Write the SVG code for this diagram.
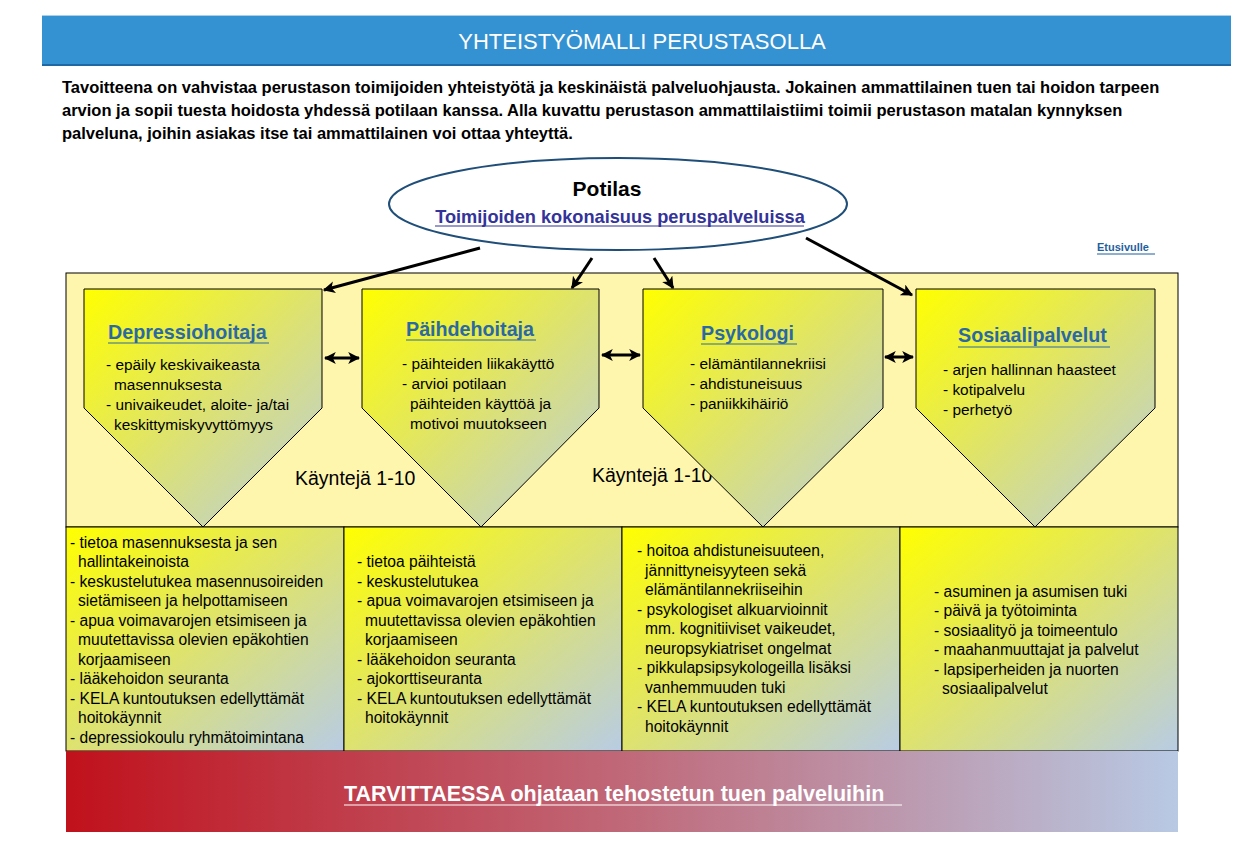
<svg xmlns="http://www.w3.org/2000/svg" width="1251" height="848" viewBox="0 0 1251 848">
<style>
.t{font-family:"Liberation Sans",Arial,sans-serif;}
.para{font-family:"Liberation Sans",Arial,sans-serif;font-size:16.5px;font-weight:bold;fill:#000;}
.ttl{font-family:"Liberation Sans",Arial,sans-serif;font-size:19.7px;font-weight:bold;fill:#2a69a3;}
.bl{font-family:"Liberation Sans",Arial,sans-serif;font-size:15.4px;fill:#000;}
.cl{font-family:"Liberation Sans",Arial,sans-serif;font-size:15.6px;fill:#000;}
.pent{stroke:#000;stroke-width:1;fill:url(#gy);}
.cell{stroke:#000;stroke-width:1;fill:url(#gy);}
.conn{stroke:#000;stroke-width:3;fill:none;}
</style>
<defs>
<linearGradient id="gy" x1="0" y1="0" x2="1" y2="1">
<stop offset="0" stop-color="#ffff00"/>
<stop offset="0.5" stop-color="#dde270"/>
<stop offset="1" stop-color="#b8cce4"/>
</linearGradient>
<linearGradient id="gr" x1="0" y1="0" x2="1" y2="0">
<stop offset="0" stop-color="#c0111c"/>
<stop offset="0.5" stop-color="#c06878"/>
<stop offset="1" stop-color="#b8c9e4"/>
</linearGradient>
<marker id="ah" viewBox="0 0 10 10" refX="9" refY="5" markerWidth="4" markerHeight="4" orient="auto-start-reverse" markerUnits="strokeWidth">
<path d="M0,0 L10,5 L0,10 L2.5,5 Z" fill="#000"/>
</marker>
</defs>
<rect width="1251" height="848" fill="#fff"/>

<g id="header">
<rect x="42" y="15" width="1189" height="51" fill="#3592d2"/>
<line x1="42" y1="15.5" x2="1231" y2="15.5" stroke="#a8d0ee" stroke-width="1"/>
<line x1="42" y1="65" x2="1231" y2="65" stroke="#1f68a6" stroke-width="2"/>
<text x="642" y="49" text-anchor="middle" class="t" font-size="22" fill="#fff">YHTEISTYÖMALLI PERUSTASOLLA</text>
</g>

<g id="intro">
<text x="62" y="93" class="para">Tavoitteena on vahvistaa perustason toimijoiden yhteistyötä ja keskinäistä palveluohjausta. Jokainen ammattilainen tuen tai hoidon tarpeen</text>
<text x="62" y="116" class="para">arvion ja sopii tuesta hoidosta yhdessä potilaan kanssa. Alla kuvattu perustason ammattilaistiimi toimii perustason matalan kynnyksen</text>
<text x="62" y="139" class="para">palveluna, joihin asiakas itse tai ammattilainen voi ottaa yhteyttä.</text>
</g>

<g id="etusivulle">
<text x="1097" y="251" class="t" font-size="11" font-weight="bold" fill="#1f5f9f">Etusivulle</text>
<line x1="1097" y1="254" x2="1155" y2="254" stroke="#1f5f9f" stroke-width="1"/>
</g>

<g id="main-area">
<rect x="66" y="273" width="1112" height="254" fill="#fff6ae" stroke="#000" stroke-width="1"/>
<text x="295" y="485" class="t" font-size="19.5" fill="#000">Käyntejä 1-10</text>
<text x="592" y="482" class="t" font-size="19.5" fill="#000">Käyntejä 1-10</text>
</g>

<g id="potilas">
<ellipse cx="618" cy="204" rx="229" ry="46" fill="#fff" stroke="#1f4e79" stroke-width="2"/>
<text x="607" y="196" text-anchor="middle" class="t" font-size="21" font-weight="bold" fill="#000">Potilas</text>
<text x="620" y="223" text-anchor="middle" class="t" font-size="18.2" font-weight="bold" fill="#333399">Toimijoiden kokonaisuus peruspalveluissa</text>
<line x1="435" y1="226" x2="804" y2="226" stroke="#333399" stroke-width="1"/>
</g>

<g id="depressiohoitaja">
<polygon class="pent" points="84,289 322,289 322,408 203,527 84,408"/>
<text x="108" y="339" class="ttl">Depressiohoitaja</text>
<line x1="108" y1="343" x2="269" y2="343" stroke="#2a69a3" stroke-width="1"/>
<text x="106" y="370" class="bl">- epäily keskivaikeasta</text>
<text x="114" y="390" class="bl">masennuksesta</text>
<text x="106" y="410" class="bl">- univaikeudet, aloite- ja/tai</text>
<text x="114" y="430" class="bl">keskittymiskyvyttömyys</text>
</g>

<g id="paihdehoitaja">
<polygon class="pent" points="362,289 599,289 599,408 481,527 362,408"/>
<text x="406" y="336" class="ttl">Päihdehoitaja</text>
<line x1="406" y1="340" x2="536" y2="340" stroke="#2a69a3" stroke-width="1"/>
<text x="402" y="369" class="bl">- päihteiden liikakäyttö</text>
<text x="402" y="389" class="bl">- arvioi potilaan</text>
<text x="410" y="409" class="bl">päihteiden käyttöä ja</text>
<text x="410" y="429" class="bl">motivoi muutokseen</text>
</g>

<g id="psykologi">
<polygon class="pent" points="643,289 883,289 883,408 763,527 643,408"/>
<text x="701" y="340" class="ttl">Psykologi</text>
<line x1="701" y1="344" x2="797" y2="344" stroke="#2a69a3" stroke-width="1"/>
<text x="690" y="369" class="bl">- elämäntilannekriisi</text>
<text x="690" y="389" class="bl">- ahdistuneisuus</text>
<text x="690" y="409" class="bl">- paniikkihäiriö</text>
</g>

<g id="sosiaalipalvelut">
<polygon class="pent" points="916,289 1155,289 1155,408 1035,527 916,408"/>
<text x="958" y="342" class="ttl">Sosiaalipalvelut</text>
<line x1="958" y1="347" x2="1110" y2="347" stroke="#2a69a3" stroke-width="1"/>
<text x="943" y="375" class="bl">- arjen hallinnan haasteet</text>
<text x="943" y="395" class="bl">- kotipalvelu</text>
<text x="943" y="415" class="bl">- perhetyö</text>
</g>

<g id="cell-depressio">
<rect class="cell" x="66" y="527" width="278" height="224"/>
<text x="70" y="548" class="cl">- tietoa masennuksesta ja sen</text>
<text x="78" y="567" class="cl">hallintakeinoista</text>
<text x="70" y="587" class="cl">- keskustelutukea masennusoireiden</text>
<text x="78" y="606" class="cl">sietämiseen ja helpottamiseen</text>
<text x="70" y="626" class="cl">- apua voimavarojen etsimiseen ja</text>
<text x="78" y="645" class="cl">muutettavissa olevien epäkohtien</text>
<text x="78" y="665" class="cl">korjaamiseen</text>
<text x="70" y="684" class="cl">- lääkehoidon seuranta</text>
<text x="70" y="704" class="cl">- KELA kuntoutuksen edellyttämät</text>
<text x="78" y="723" class="cl">hoitokäynnit</text>
<text x="70" y="743" class="cl">- depressiokoulu ryhmätoimintana</text>
</g>

<g id="cell-paihde">
<rect class="cell" x="344" y="527" width="278" height="224"/>
<text x="357" y="567" class="cl">- tietoa päihteistä</text>
<text x="357" y="587" class="cl">- keskustelutukea</text>
<text x="357" y="606" class="cl">- apua voimavarojen etsimiseen ja</text>
<text x="365" y="626" class="cl">muutettavissa olevien epäkohtien</text>
<text x="365" y="645" class="cl">korjaamiseen</text>
<text x="357" y="665" class="cl">- lääkehoidon seuranta</text>
<text x="357" y="684" class="cl">- ajokorttiseuranta</text>
<text x="357" y="704" class="cl">- KELA kuntoutuksen edellyttämät</text>
<text x="365" y="723" class="cl">hoitokäynnit</text>
</g>

<g id="cell-psykologi">
<rect class="cell" x="622" y="527" width="278" height="224"/>
<text x="637" y="556" class="cl">- hoitoa ahdistuneisuuteen,</text>
<text x="645" y="576" class="cl">jännittyneisyyteen sekä</text>
<text x="645" y="595" class="cl">elämäntilannekriiseihin</text>
<text x="637" y="615" class="cl">- psykologiset alkuarvioinnit</text>
<text x="645" y="634" class="cl">mm. kognitiiviset vaikeudet,</text>
<text x="645" y="654" class="cl">neuropsykiatriset ongelmat</text>
<text x="637" y="673" class="cl">- pikkulapsipsykologeilla lisäksi</text>
<text x="645" y="693" class="cl">vanhemmuuden tuki</text>
<text x="637" y="712" class="cl">- KELA kuntoutuksen edellyttämät</text>
<text x="645" y="732" class="cl">hoitokäynnit</text>
</g>

<g id="cell-sosiaali">
<rect class="cell" x="900" y="527" width="278" height="224"/>
<text x="934" y="597" class="cl">- asuminen ja asumisen tuki</text>
<text x="934" y="616" class="cl">- päivä ja työtoiminta</text>
<text x="934" y="636" class="cl">- sosiaalityö ja toimeentulo</text>
<text x="934" y="655" class="cl">- maahanmuuttajat ja palvelut</text>
<text x="934" y="675" class="cl">- lapsiperheiden ja nuorten</text>
<text x="942" y="694" class="cl">sosiaalipalvelut</text>
</g>

<g id="tarvittaessa">
<rect x="66" y="751" width="1112" height="81" fill="url(#gr)"/>
<text x="344" y="801" class="t" font-size="21.5" font-weight="bold" fill="#fff">TARVITTAESSA ohjataan tehostetun tuen palveluihin</text>
<line x1="344" y1="805" x2="902" y2="805" stroke="#fff" stroke-width="1.2"/>
</g>

<g id="connectors">
<line class="conn" x1="480" y1="248" x2="324" y2="290" marker-end="url(#ah)"/>
<line class="conn" x1="592" y1="258" x2="572" y2="288" marker-end="url(#ah)"/>
<line class="conn" x1="654" y1="258" x2="673" y2="288" marker-end="url(#ah)"/>
<line class="conn" x1="806" y1="238" x2="912" y2="295" marker-end="url(#ah)"/>
<line class="conn" x1="325" y1="358" x2="359" y2="358" marker-start="url(#ah)" marker-end="url(#ah)"/>
<line class="conn" x1="602" y1="355" x2="640" y2="355" marker-start="url(#ah)" marker-end="url(#ah)"/>
<line class="conn" x1="885" y1="357" x2="913" y2="357" marker-start="url(#ah)" marker-end="url(#ah)"/>
</g>
</svg>
